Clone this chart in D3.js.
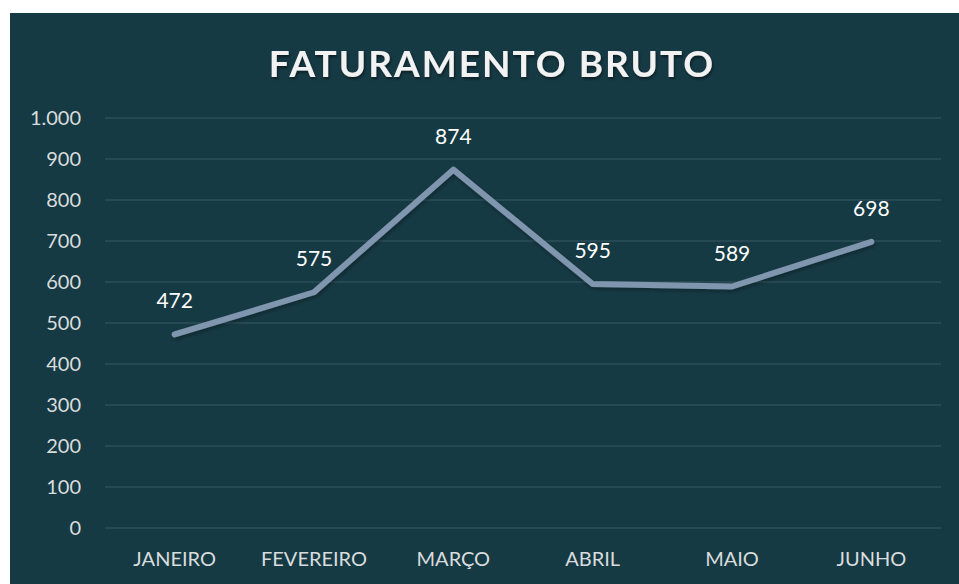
<!DOCTYPE html>
<html><head><meta charset="utf-8">
<script src="https://cdn.jsdelivr.net/npm/d3@7/dist/d3.min.js"></script>
<style>body{margin:0;background:#fff}svg{display:block}</style>
</head><body>
<svg id="c" width="959" height="584"></svg>
<script>
const categories = ["JANEIRO","FEVEREIRO","MARÇO","ABRIL","MAIO","JUNHO"];
const values = [472,575,874,595,589,698];
const yTicks = [0,100,200,300,400,500,600,700,800,900,1000];
const title = "FATURAMENTO BRUTO";

const svg = d3.select("#c");
const font = "Lato, 'Open Sans', sans-serif";
svg.append("rect").attr("x",10).attr("y",13).attr("width",949).attr("height",571).attr("fill","#163a44");

const defs = svg.append("defs");
const f = defs.append("filter").attr("id","sh").attr("x","-10%").attr("y","-10%").attr("width","120%").attr("height","130%");
f.append("feDropShadow").attr("dx",1).attr("dy",2).attr("stdDeviation",1.5).attr("flood-color","#000").attr("flood-opacity",0.5);
const f2 = defs.append("filter").attr("id","sh2").attr("x","-10%").attr("y","-10%").attr("width","120%").attr("height","130%");
f2.append("feDropShadow").attr("dx",1).attr("dy",2).attr("stdDeviation",2).attr("flood-color","#000").attr("flood-opacity",0.35);

const x = d3.scaleBand().domain(categories).range([105,941]);
const y = d3.scaleLinear().domain([0,1000]).range([528,118]);

svg.append("g").selectAll("line").data(yTicks).join("line")
  .attr("x1",105).attr("x2",941).attr("y1",d=>y(d)).attr("y2",d=>y(d))
  .attr("stroke","#2e4f5a").attr("stroke-width",1.3);

const fmt = d => d3.format(",")(d).replace(/,/g,".");
svg.append("g").selectAll("text").data(yTicks).join("text")
  .attr("x",81).attr("y",d=>y(d)).attr("dy","0.35em").attr("text-anchor","end")
  .attr("fill","#d9dcdd").attr("font-family",font).attr("font-size",20).text(fmt);

svg.append("g").selectAll("text").data(categories).join("text")
  .attr("x",d=>x(d)+x.bandwidth()/2).attr("y",566).attr("text-anchor","middle")
  .attr("fill","#d9dcdd").attr("font-family",font).attr("font-size",20).text(d=>d);

const line = d3.line().x((d,i)=>x(categories[i])+x.bandwidth()/2).y(d=>y(d));
svg.append("path").datum(values).attr("d",line).attr("fill","none")
  .attr("stroke","#8096ae").attr("stroke-width",6).attr("stroke-linejoin","round").attr("stroke-linecap","round")
  .attr("filter","url(#sh2)");

svg.append("g").selectAll("text").data(values).join("text")
  .attr("x",(d,i)=>x(categories[i])+x.bandwidth()/2).attr("y",d=>y(d)-26)
  .attr("text-anchor","middle").attr("fill","#ffffff").attr("font-family",font).attr("font-size",21).text(d=>d);

svg.append("text").attr("x",492).attr("y",77).attr("text-anchor","middle")
  .attr("fill","#f2f2f2").attr("font-family",font).attr("font-weight","bold").attr("font-size",37)
  .attr("letter-spacing",2).attr("filter","url(#sh)").text(title);
</script>
</body></html>
